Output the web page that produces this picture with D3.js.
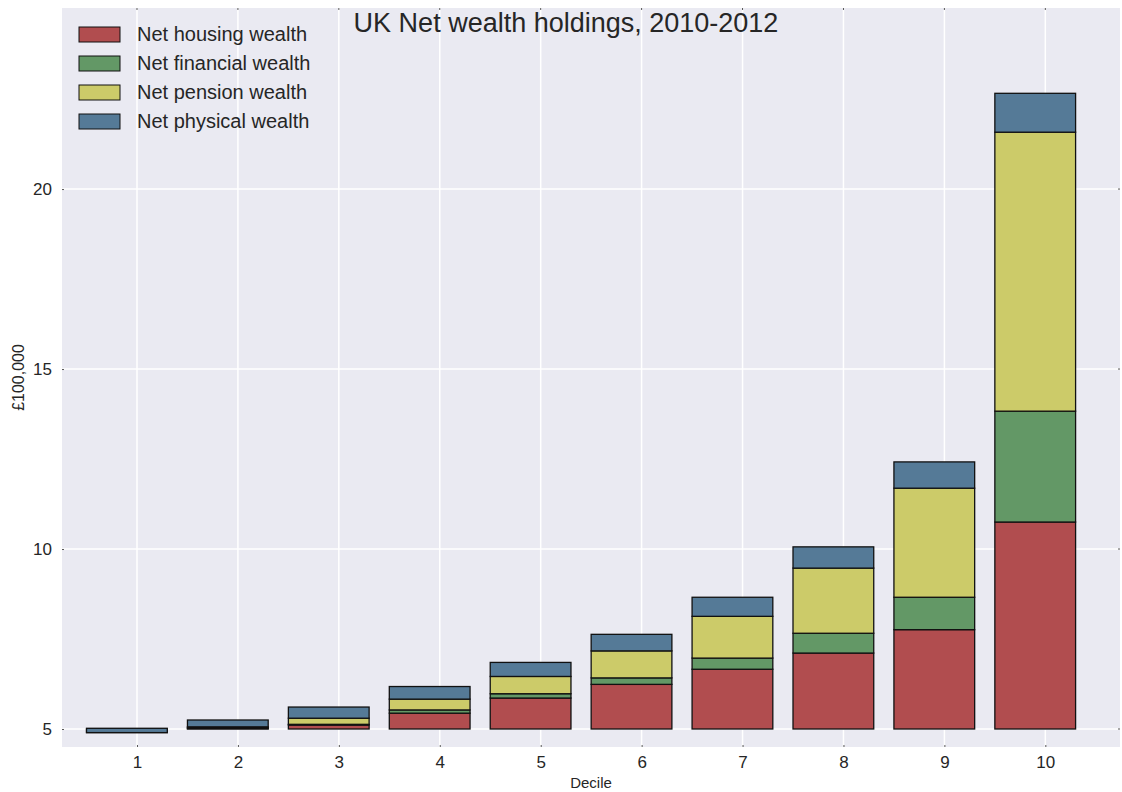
<!DOCTYPE html>
<html>
<head>
<meta charset="utf-8">
<script src="https://cdn.jsdelivr.net/npm/d3@7"></script>
<style>
    body { margin: 0; background: #fff; }
    text { font-family: "Liberation Sans", Arial, sans-serif; fill: #262626; }
</style>
</head>
<body>
<svg id="chart"></svg>
<script>
// data, in £100,000, stacked on top of a base of 5
const deciles = [1, 2, 3, 4, 5, 6, 7, 8, 9, 10];
const baseValue = 5;
const housing   = [0.00, 0.01, 0.11, 0.44, 0.86, 1.24, 1.66, 2.11, 2.76, 5.75];
const financial = [-0.10, 0.03, 0.02, 0.09, 0.12, 0.18, 0.31, 0.55, 0.90, 3.08];
const pension   = [0.00, 0.02, 0.17, 0.30, 0.48, 0.75, 1.16, 1.81, 3.03, 7.75];
const physical  = [0.12, 0.19, 0.31, 0.35, 0.39, 0.46, 0.53, 0.59, 0.73, 1.08];
const seriesNames = ['Net housing wealth', 'Net financial wealth', 'Net pension wealth', 'Net physical wealth'];
const yTicks = [5, 10, 15, 20];

class StackedBar {

    constructor(_config) {
        this.config = {
            parentElement: _config.parentElement,
            containerWidth: _config.containerWidth || 1122,
            containerHeight: _config.containerHeight || 792,
        };
        this.config.margin = _config.margin || { top: 8, bottom: 45, right: 2, left: 62 };
        this.colors = ['#b14d4f', '#639866', '#cccb69', '#557a97'];
        this.series = [housing, financial, pension, physical];
        this.initVis();
    }

    initVis() {
        let vis = this;

        vis.width = vis.config.containerWidth - vis.config.margin.left - vis.config.margin.right;
        vis.height = vis.config.containerHeight - vis.config.margin.top - vis.config.margin.bottom;

        vis.svg = d3.select(vis.config.parentElement)
            .attr('width', vis.config.containerWidth)
            .attr('height', vis.config.containerHeight);

        vis.chart = vis.svg.append('g')
            .attr('transform', `translate(${vis.config.margin.left}, ${vis.config.margin.top})`);

        vis.xScale = d3.scaleLinear()
            .domain([0.257, 10.74])
            .range([0, vis.width]);

        vis.yScale = d3.scaleLinear()
            .domain([4.5, 25.03])
            .range([vis.height, 0]);

        vis.chart.append('rect')
            .attr('width', vis.width)
            .attr('height', vis.height)
            .attr('fill', '#eaeaf2');

        // grid
        vis.chart.append('g').selectAll('line')
            .data(deciles)
            .join('line')
                .attr('x1', d => vis.xScale(d)).attr('x2', d => vis.xScale(d))
                .attr('y1', 0).attr('y2', vis.height)
                .attr('stroke', '#fff').attr('stroke-width', 1.5);

        vis.chart.append('g').selectAll('line')
            .data(yTicks)
            .join('line')
                .attr('y1', d => vis.yScale(d)).attr('y2', d => vis.yScale(d))
                .attr('x1', 0).attr('x2', vis.width)
                .attr('stroke', '#fff').attr('stroke-width', 1.5);

        // axes, matplotlib style tiny ticks
        const xAxis = d3.axisBottom(vis.xScale).tickValues(deciles).tickSizeInner(-2).tickSizeOuter(0).tickPadding(9);
        const xAxisG = vis.chart.append('g').call(xAxis)
            .attr('transform', `translate(0, ${vis.height})`);
        const yAxis = d3.axisLeft(vis.yScale).tickValues(yTicks).tickSizeInner(-2).tickSizeOuter(0).tickPadding(10);
        const yAxisG = vis.chart.append('g').call(yAxis);

        [xAxisG, yAxisG].forEach(g => {
            g.select('.domain').remove();
            g.selectAll('.tick line').attr('stroke', '#555');
            g.selectAll('.tick text').attr('font-size', 17).style('font-family', '"Liberation Sans", Arial, sans-serif').attr('fill', '#262626');
        });

        vis.chart.append('g').selectAll('line')
            .data(deciles)
            .join('line')
                .attr('x1', d => vis.xScale(d)).attr('x2', d => vis.xScale(d))
                .attr('y1', 0).attr('y2', 2)
                .attr('stroke', '#555');

        vis.chart.append('g').selectAll('line')
            .data(yTicks)
            .join('line')
                .attr('y1', d => vis.yScale(d)).attr('y2', d => vis.yScale(d))
                .attr('x1', vis.width - 2).attr('x2', vis.width)
                .attr('stroke', '#555');

        vis.svg.append('text')
            .attr('x', vis.config.margin.left + vis.width / 2)
            .attr('y', 788)
            .attr('text-anchor', 'middle')
            .attr('font-size', 15)
            .text('Decile');

        vis.svg.append('text')
            .attr('transform', `translate(24, ${vis.config.margin.top + vis.height / 2}) rotate(-90)`)
            .attr('text-anchor', 'middle')
            .attr('font-size', 16)
            .text('£100,000');
    }

    render() {
        let vis = this;

        // cumulative stack from the base, negatives go down from the running total
        const stacks = vis.series.map(() => []);
        deciles.forEach((d, i) => {
            let cum = baseValue;
            vis.series.forEach((s, k) => {
                stacks[k].push({ decile: d, y0: cum, y1: cum + s[i] });
                cum += s[i];
            });
        });

        const barW = vis.xScale(0.8) - vis.xScale(0);

        stacks.forEach((layer, k) => {
            vis.chart.append('g')
                .selectAll('rect')
                .data(layer)
                .join('rect')
                    .attr('x', d => vis.xScale(d.decile - 0.5))
                    .attr('width', barW)
                    .attr('y', d => vis.yScale(Math.max(d.y0, d.y1)))
                    .attr('height', d => Math.abs(vis.yScale(d.y0) - vis.yScale(d.y1)))
                    .attr('fill', vis.colors[k])
                    .attr('stroke', '#111')
                    .attr('stroke-width', 1.3);
        });

        // legend
        const legend = vis.svg.append('g').attr('transform', 'translate(79, 27)');
        const rows = legend.selectAll('g')
            .data(seriesNames)
            .join('g')
                .attr('transform', (d, i) => `translate(0, ${i * 29})`);
        rows.append('rect')
            .attr('width', 41).attr('height', 15)
            .attr('fill', (d, i) => vis.colors[i])
            .attr('stroke', '#111').attr('stroke-width', 1);
        rows.append('text')
            .attr('x', 58).attr('y', 14)
            .attr('font-size', 20)
            .text(d => d);

        vis.svg.append('text')
            .attr('x', 566)
            .attr('y', 32)
            .attr('text-anchor', 'middle')
            .attr('font-size', 27)
            .text('UK Net wealth holdings, 2010-2012');
    }
}

const bars = new StackedBar({ parentElement: '#chart' });
bars.render();
</script>
</body>
</html>
